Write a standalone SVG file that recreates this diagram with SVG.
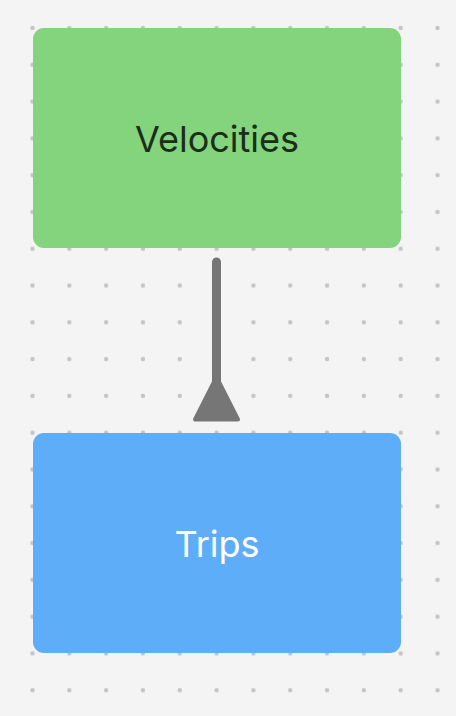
<svg xmlns="http://www.w3.org/2000/svg" width="456" height="716" viewBox="0 0 456 716">
<defs>
<pattern id="dots" x="32.5" y="28" width="36.82" height="36.79" patternUnits="userSpaceOnUse">
<circle cx="0" cy="0" r="2.2" fill="#c4c4c4"/>
<circle cx="36.82" cy="0" r="2.2" fill="#c4c4c4"/>
<circle cx="0" cy="36.79" r="2.2" fill="#c4c4c4"/>
<circle cx="36.82" cy="36.79" r="2.2" fill="#c4c4c4"/>
</pattern>
</defs>
<style>
.label{font-family:Inter,"Noto Sans",sans-serif;font-size:36px;font-weight:400;text-anchor:middle}
.conn{stroke:#767676;fill:none;stroke-width:9;stroke-linecap:round}
.head{fill:#767676;stroke:#767676;stroke-width:4;stroke-linejoin:round}
</style>
<rect width="456" height="716" fill="#f4f4f4"/>
<rect width="456" height="716" fill="url(#dots)"/>
<g id="connectors">
<line class="conn" x1="216.5" y1="262" x2="216.5" y2="385"/>
<polygon class="head" points="216.5,377 195,419.5 238,419.5"/>
</g>
<g id="velocities">
<rect x="33" y="28" width="368" height="220" rx="11" fill="#84d47e"/>
<text class="label" x="217" y="152" fill="#1b2e1a">Velocities</text>
</g>
<g id="trips">
<rect x="33" y="433" width="368" height="220" rx="11" fill="#5eadf8"/>
<text class="label" x="217" y="557" fill="#ffffff">Trips</text>
</g>
</svg>
